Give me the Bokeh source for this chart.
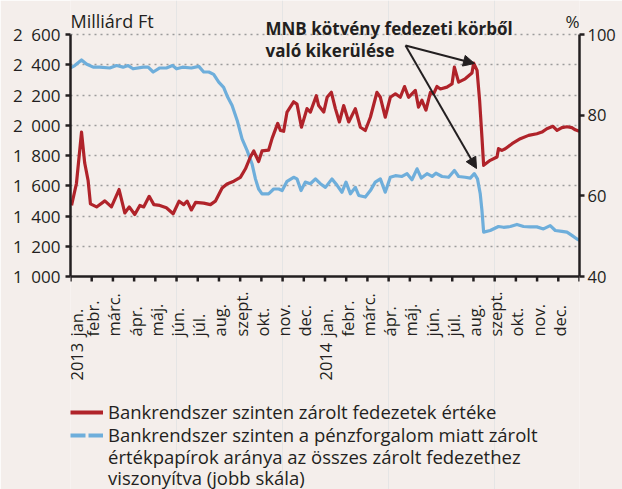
import math
from bokeh.plotting import figure
from bokeh.models import (LinearAxis, Range1d, FixedTicker, Label, ColumnDataSource,
                          Arrow, NormalHead, Legend, LegendItem, Span)
from bokeh.core.properties import value
from bokeh.embed import file_html
from bokeh.resources import INLINE

# ---------------- data ----------------
months = ["jan.", "febr.", "márc.", "ápr.", "máj.", "jún.", "júl.", "aug.", "szept.", "okt.", "nov.", "dec.",
          "jan.", "febr.", "márc.", "ápr.", "máj.", "jún.", "júl.", "aug.", "szept.", "okt.", "nov.", "dec."]
month_pos = list(range(24))
years = ["2013", "2014"]
year_pos = [0, 12]
month_ticks = list(range(25))

# month index (0 = 2013 jan. 1) of each observation
red_t = [0.05, 0.28, 0.52, 0.67, 0.83, 0.94, 1.23, 1.62, 1.93, 2.29,
         2.56, 2.77, 3.03, 3.27, 3.45, 3.71, 3.93, 4.21, 4.52, 4.84,
         5.12, 5.34, 5.50, 5.70, 5.90, 6.28, 6.60, 6.83, 7.15, 7.38,
         7.70, 8.01, 8.25, 8.48, 8.64, 8.87, 9.03, 9.34, 9.51, 9.77,
         9.90, 10.05, 10.21, 10.52, 10.68, 10.89, 11.15, 11.31, 11.59, 11.70,
         11.94, 12.10, 12.30, 12.49, 12.68, 12.88, 13.12, 13.43, 13.67, 13.90,
         14.14, 14.45, 14.61, 14.84, 15.08, 15.32, 15.55, 15.75, 15.94, 16.26,
         16.41, 16.57, 16.76, 16.97, 17.12, 17.28, 17.44, 17.75, 17.99, 18.10,
         18.30, 18.61, 18.93, 19.01, 19.17, 19.29, 19.40, 19.48, 19.79, 20.11,
         20.18, 20.34, 20.50, 20.82, 21.21, 21.60, 21.99, 22.23, 22.46, 22.75,
         22.94, 23.17, 23.41, 23.64, 23.80, 23.99]
red_v = [1470, 1615, 1955, 1750, 1635, 1480, 1460, 1500, 1460, 1575,
         1420, 1460, 1410, 1470, 1460, 1530, 1475, 1470, 1455, 1415,
         1498, 1475, 1498, 1440, 1490, 1485, 1475, 1498, 1585, 1612,
         1630, 1655, 1712, 1790, 1830, 1760, 1830, 1835, 1915, 2012,
         1965, 1960, 2087, 2155, 2140, 1987, 2110, 2087, 2195, 2130,
         2087, 2185, 2218, 2110, 2022, 2130, 2022, 2110, 1987, 1965,
         2053, 2218, 2185, 2053, 2185, 2208, 2185, 2256, 2185, 2230,
         2120, 2165, 2100, 2218, 2208, 2256, 2240, 2252, 2273, 2384,
         2285, 2307, 2345, 2411, 2363, 2165, 1922, 1735, 1768, 1790,
         1845, 1834, 1845, 1878, 1911, 1933, 1944, 1955, 1977, 1993,
         1966, 1984, 1990, 1984, 1970, 1960]

blue_t = [0.0, 0.20, 0.52, 0.75, 1.07, 1.38, 1.85, 2.17, 2.48, 2.72,
          2.95, 3.43, 3.66, 3.90, 4.21, 4.52, 4.81, 5.00, 5.28, 5.70,
          6.05, 6.28, 6.52, 6.75, 6.99, 7.22, 7.41, 7.62, 7.86, 8.09,
          8.33, 8.56, 8.72, 8.87, 9.03, 9.34, 9.58, 9.82, 9.98, 10.21,
          10.52, 10.68, 10.87, 11.07, 11.31, 11.55, 11.78, 12.02, 12.33, 12.57,
          12.80, 12.99, 13.20, 13.43, 13.59, 13.90, 14.14, 14.37, 14.61, 14.84,
          15.08, 15.32, 15.63, 15.87, 16.10, 16.34, 16.54, 16.81, 17.05, 17.23,
          17.52, 17.83, 18.10, 18.30, 18.61, 18.85, 19.04, 19.19, 19.32, 19.40,
          19.48, 19.79, 20.18, 20.42, 20.74, 21.05, 21.36, 21.68, 21.99, 22.30,
          22.62, 22.86, 23.17, 23.41, 23.64, 23.88, 24.0]
blue_v = [91.7, 92.3, 93.7, 92.7, 91.9, 91.9, 91.7, 92.3, 91.9, 92.3,
          91.5, 91.9, 91.9, 90.7, 91.7, 91.7, 92.3, 91.5, 91.9, 91.7,
          92.1, 90.7, 90.7, 90.1, 88.2, 86.9, 84.5, 82.4, 78.7, 74.1,
          71.2, 67.9, 64.2, 61.7, 60.5, 60.5, 61.7, 61.7, 61.3, 63.6,
          64.6, 64.2, 61.3, 63.4, 63.0, 64.2, 63.0, 62.1, 64.2, 62.6,
          60.9, 63.4, 60.5, 62.1, 60.1, 59.7, 61.3, 63.4, 64.2, 60.9,
          64.6, 65.0, 64.8, 65.5, 64.0, 66.7, 64.4, 65.5, 64.8, 65.6,
          64.8, 64.6, 66.3, 64.8, 64.6, 64.4, 65.5, 64.2, 60.5, 56.4,
          51.0, 51.4, 52.4, 52.2, 52.4, 52.9, 52.4, 52.3, 52.3, 51.8,
          52.6, 51.4, 51.2, 51.0, 50.2, 49.3, 49.0]

left_ticks = [1000, 1200, 1400, 1600, 1800, 2000, 2200, 2400, 2600]
right_ticks = [40, 60, 80, 100]

red_label = "Bankrendszer szinten zárolt fedezetek értéke"
blue_label_lines = ["Bankrendszer szinten a pénzforgalom miatt zárolt",
                    "értékpapírok aránya az összes zárolt fedezethez",
                    "viszonyítva (jobb skála)"]
note_lines = ["MNB kötvény fedezeti körből", "való kikerülése"]

# ---------------- style ----------------
BG = "#f4eeeb"
RED = "#b0232a"
BLUE = "#6eaedb"
INK = "#231f20"
GRID = "#9c9c9c"
FONT = "Open Sans"

W, H = 622, 489
L, T, FW, FH = 70, 34, 509, 242     # value area of the chart (pixels)
R = W - L - FW
Y0, Y1 = 1000, 2600
P0, P1 = 40, 100
TICK = 5                            # month tick length, pixels


def dx(px):
    return (px - L) / FW * 24


def dy(py):
    return Y1 - (py - T) / FH * (Y1 - Y0)


def dp(py):
    return P1 - (py - T) / FH * (P1 - P0)


# the frame spans the full height so the month names and the key can be drawn inside it
p = figure(width=W, height=H, x_range=Range1d(0, 24), y_range=Range1d(dy(H), dy(0)),
           x_axis_location=None,
           output_backend="svg", toolbar_location=None, title=None,
           min_border_left=L, min_border_right=R, min_border_top=0, min_border_bottom=0,
           background_fill_color=BG, border_fill_color=BG, outline_line_color=None)
p.extra_y_ranges = {"pct": Range1d(dp(H), dp(0))}

# grid
p.ygrid.ticker = FixedTicker(ticks=left_ticks[1:])
p.ygrid.grid_line_color = GRID
p.ygrid.grid_line_dash = "2 4"
p.ygrid.grid_line_width = 1.5

# left axis
ya = p.yaxis[0]
ya.bounds = (Y0, Y1)
ya.ticker = FixedTicker(ticks=left_ticks)
ya.major_label_overrides = {v: f"{v // 1000}\u2002{v % 1000:03d}" for v in left_ticks}
ya.major_label_text_font = FONT
ya.major_label_text_font_size = "17px"
ya.major_label_text_color = INK
ya.major_label_standoff = 5
ya.major_tick_in = 0
ya.major_tick_out = 5
ya.minor_tick_line_color = None
ya.axis_line_color = INK
ya.axis_line_width = 2.5
ya.major_tick_line_color = INK
ya.major_tick_line_width = 2.5

# right axis
ra = LinearAxis(y_range_name="pct", ticker=FixedTicker(ticks=right_ticks), bounds=(P0, P1))
ra.major_label_text_font = FONT
ra.major_label_text_font_size = "16.5px"
ra.major_label_text_color = INK
ra.major_label_standoff = 3
ra.major_tick_in = 0
ra.major_tick_out = 5
ra.minor_tick_line_color = None
ra.axis_line_color = INK
ra.axis_line_width = 2.5
ra.major_tick_line_color = INK
ra.major_tick_line_width = 2.5
p.add_layout(ra, "right")

# series
p.line(blue_t, blue_v, y_range_name="pct", line_color=BLUE, line_width=3.2, line_join="round")
p.line(red_t, red_v, line_color=RED, line_width=3.2, line_join="round")

# time axis: base line at 1 000 and a tick at every month boundary
p.add_layout(Span(location=Y0, dimension="width", line_color=INK, line_width=2.5))
tick_len = TICK / FH * (Y1 - Y0)
tsrc = ColumnDataSource(dict(x=month_ticks, y0=[Y0] * len(month_ticks),
                             y1=[Y0 - tick_len] * len(month_ticks)))
p.segment(x0="x", y0="y0", x1="x", y1="y1", source=tsrc, line_color=INK, line_width=2.5)

# month and year names (rotated, reading upwards)
m_off = [6 if m == 0 else 1 for m in month_pos]
msrc = ColumnDataSource(dict(x=month_pos, y=[dy(336)] * len(month_pos), text=months, xo=m_off))
p.text(x="x", y="y", text="text", source=msrc, angle=math.pi / 2, x_offset="xo",
       text_align="left", text_baseline="middle",
       text_font=value(FONT), text_font_size=value("16.5px"), text_color=INK)
y_off = [6 if m == 0 else 1 for m in year_pos]
ysrc = ColumnDataSource(dict(x=year_pos, y=[dy(380)] * len(year_pos), text=years, xo=y_off))
p.text(x="x", y="y", text="text", source=ysrc, angle=math.pi / 2, x_offset="xo",
       text_align="left", text_baseline="middle",
       text_font=value(FONT), text_font_size=value("16.5px"), text_color=INK)

# axis titles
p.add_layout(Label(x=dx(70), y=dy(20), text="Milliárd Ft", text_align="left", text_baseline="middle",
                   text_font=FONT, text_font_size="18px", text_color=INK))
p.add_layout(Label(x=dx(579), y=dy(21), text="%", text_align="right", text_baseline="middle",
                   text_font=FONT, text_font_size="17px", text_color=INK))

# annotation
for i, line in enumerate(note_lines):
    p.add_layout(Label(x=dx(265), y=dy(28 + 22 * i), text=line, text_align="left", text_baseline="middle",
                       text_font=FONT, text_font_size="17px", text_font_style="bold", text_color=INK))
for ex, ey in [(474, 63), (476, 168)]:
    p.add_layout(Arrow(end=NormalHead(size=11, fill_color=INK, line_color=INK, line_width=1),
                       x_start=dx(405), y_start=dy(45), x_end=dx(ex), y_end=dy(ey),
                       line_color=INK, line_width=2))

# key
nan = float("nan")
r_leg = p.line([nan, nan], [nan, nan], line_color=RED, line_width=4)
b_leg = p.line([nan, nan], [nan, nan], line_color=BLUE, line_width=4, line_dash="15 3")
n_leg = p.line([nan, nan], [nan, nan], line_color=BG, line_alpha=0)

legend_rows = [(red_label, r_leg, 412), (blue_label_lines[0], b_leg, 435),
               (blue_label_lines[1], n_leg, 456.5), (blue_label_lines[2], n_leg, 477.5)]
ITEM_H = 24.7
for text, rend, cy in legend_rows:
    lg = Legend(items=[LegendItem(label=text, renderers=[rend])],
                location=(0, round(H - cy - ITEM_H / 2)), orientation="vertical",
                border_line_color=None, background_fill_alpha=0, padding=0, margin=0, spacing=0,
                glyph_width=33, glyph_height=18, label_height=18, label_standoff=5,
                label_text_font=FONT, label_text_font_size="18.5px", label_text_color=INK)
    p.add_layout(lg)

open("out.html", "w").write(file_html(p, INLINE))
